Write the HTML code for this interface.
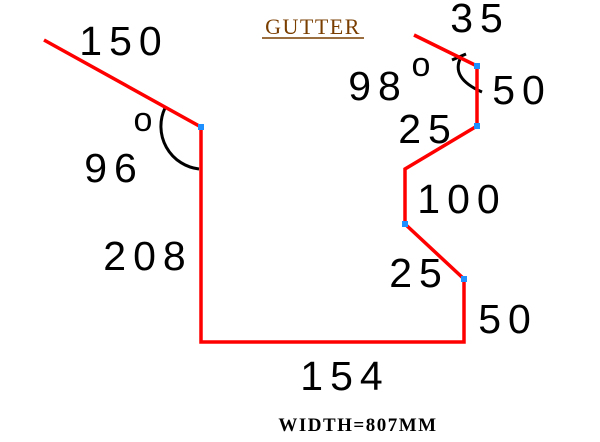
<!DOCTYPE html>
<html><head><meta charset="utf-8">
<style>
html,body{margin:0;padding:0;background:#fff;}
svg{display:block;}
.dim{font-family:"Liberation Sans",sans-serif;font-size:41px;fill:#000;font-weight:normal;letter-spacing:7px;}
</style></head>
<body>
<svg id="c" width="600" height="442" viewBox="0 0 600 442">
<text x="313" y="34" text-anchor="middle" font-family="Liberation Serif,serif" font-size="22" letter-spacing="1.5" fill="#7a3e00">GUTTER</text>
<line x1="262" y1="38" x2="364" y2="38" stroke="#7a3e00" stroke-width="1.5"/>
<text x="358" y="431" text-anchor="middle" font-family="Liberation Serif,serif" font-size="19" font-weight="bold" letter-spacing="1.5" fill="#000">WIDTH=807MM</text>
<path d="M165,108 A43,43 0 0 0 199,169" fill="none" stroke="#000" stroke-width="3"/>
<path d="M452,60 L466,54 M461,57 Q450,78 482,92" fill="none" stroke="#000" stroke-width="3"/>
</svg>
<script>
const pointsX=[44,201,201,464,464,405,405,477,477,414];
const pointsY=[40,127,342,342,279,224,169,126,66,35];
const markerIdx=[1,8,7,5,4];
const labelText=["150","96","208","154","25","50","100","25","50","98","35"];
const labelX=[124,114,148,345,419,508,462,428,522,378,480];
const labelY=[55,182,270,390,287,333,213,143,104,100,32];
const degText=["o","o"];
const degX=[143,421];
const degY=[131,76];
const svg=document.getElementById('c');
const NS='http://www.w3.org/2000/svg';
let d='';
for(let i=0;i<pointsX.length;i++){d+=(i?'L':'M')+pointsX[i]+','+pointsY[i];}
const p=document.createElementNS(NS,'path');
p.setAttribute('d',d);p.setAttribute('fill','none');p.setAttribute('stroke','#ff0000');p.setAttribute('stroke-width','3.5');


svg.appendChild(p);
markerIdx.forEach(i=>{
 const r=document.createElementNS(NS,'rect');
 r.setAttribute('x',pointsX[i]-3);r.setAttribute('y',pointsY[i]-3);r.setAttribute('width',6);r.setAttribute('height',6);r.setAttribute('fill','#1e90ff');
 
 
 svg.appendChild(r);
});
labelText.forEach((t,i)=>{
 const e=document.createElementNS(NS,'text');
 e.setAttribute('x',labelX[i]);e.setAttribute('y',labelY[i]);e.setAttribute('text-anchor','middle');e.setAttribute('class','dim');
 e.textContent=t;
 
 
 svg.appendChild(e);
});
degText.forEach((t,i)=>{
 const e=document.createElementNS(NS,'text');
 e.setAttribute('x',degX[i]);e.setAttribute('y',degY[i]);e.setAttribute('text-anchor','middle');
 e.setAttribute('font-family','Liberation Sans,sans-serif');e.setAttribute('font-size','34');
 e.textContent=t;
 
 
 svg.appendChild(e);
});
</script>
</body></html>
